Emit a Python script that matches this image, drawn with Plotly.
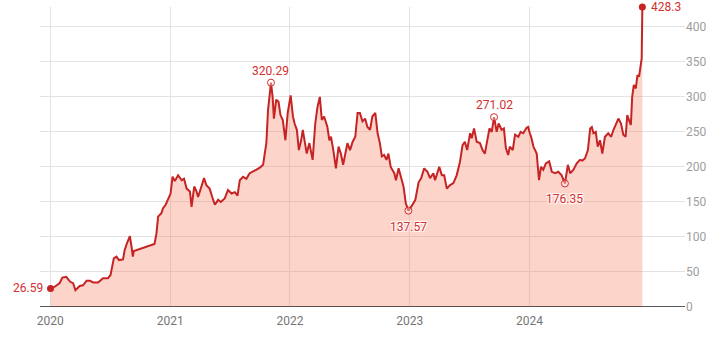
import plotly.graph_objects as go

dates = [
    "2020-01-02", "2020-01-15", "2020-01-30", "2020-02-07", "2020-02-19", "2020-03-02", "2020-03-11",
    "2020-03-18", "2020-03-31", "2020-04-10", "2020-04-21", "2020-05-01", "2020-05-11", "2020-05-26",
    "2020-06-10", "2020-06-25", "2020-07-03", "2020-07-13", "2020-07-21", "2020-07-29", "2020-08-10",
    "2020-08-15", "2020-08-22", "2020-08-31", "2020-09-05", "2020-09-09", "2020-09-12", "2020-11-14",
    "2020-11-20", "2020-11-25", "2020-12-05", "2020-12-10", "2020-12-18", "2020-12-25", "2021-01-02",
    "2021-01-08", "2021-01-15", "2021-01-25", "2021-02-05", "2021-02-12", "2021-02-20", "2021-03-02",
    "2021-03-07", "2021-03-15", "2021-03-22", "2021-03-27", "2021-04-06", "2021-04-14", "2021-04-21",
    "2021-05-01", "2021-05-09", "2021-05-17", "2021-05-27", "2021-06-04", "2021-06-16", "2021-06-26",
    "2021-07-07", "2021-07-17", "2021-07-25", "2021-08-01", "2021-08-11", "2021-08-21", "2021-08-31",
    "2021-09-10", "2021-09-21", "2021-10-01", "2021-10-11", "2021-10-16", "2021-10-21", "2021-10-26",
    "2021-11-04", "2021-11-09", "2021-11-13", "2021-11-20", "2021-11-27", "2021-12-03", "2021-12-10",
    "2021-12-18", "2021-12-25", "2022-01-03", "2022-01-10", "2022-01-15", "2022-01-22", "2022-01-28",
    "2022-02-04", "2022-02-09", "2022-02-14", "2022-02-21", "2022-03-01", "2022-03-11", "2022-03-19",
    "2022-03-26", "2022-04-02", "2022-04-08", "2022-04-15", "2022-04-25", "2022-05-01", "2022-05-06",
    "2022-05-13", "2022-05-21", "2022-05-29", "2022-06-05", "2022-06-12", "2022-06-18", "2022-06-25",
    "2022-07-03", "2022-07-11", "2022-07-19", "2022-07-26", "2022-08-02", "2022-08-10", "2022-08-18",
    "2022-08-25", "2022-09-02", "2022-09-09", "2022-09-18", "2022-09-25", "2022-10-02", "2022-10-08",
    "2022-10-15", "2022-10-22", "2022-10-28", "2022-11-04", "2022-11-15", "2022-11-20", "2022-11-28",
    "2022-12-05", "2022-12-10", "2022-12-13", "2022-12-20", "2022-12-28", "2023-01-08", "2023-01-18",
    "2023-01-28", "2023-02-05", "2023-02-14", "2023-02-24", "2023-03-04", "2023-03-14", "2023-03-19",
    "2023-04-01", "2023-04-09", "2023-04-16", "2023-04-24", "2023-05-04", "2023-05-14", "2023-05-24",
    "2023-06-03", "2023-06-11", "2023-06-18", "2023-06-25", "2023-07-04", "2023-07-09", "2023-07-16",
    "2023-07-24", "2023-08-03", "2023-08-11", "2023-08-18", "2023-08-25", "2023-09-01", "2023-09-08",
    "2023-09-15", "2023-09-23", "2023-09-29", "2023-10-08", "2023-10-15", "2023-10-21", "2023-10-28",
    "2023-11-02", "2023-11-11", "2023-11-18", "2023-11-28", "2023-12-05", "2023-12-13", "2023-12-23",
    "2023-12-28", "2024-01-02", "2024-01-06", "2024-01-13", "2024-01-23", "2024-01-30", "2024-02-05",
    "2024-02-12", "2024-02-20", "2024-03-01", "2024-03-09", "2024-03-19", "2024-03-29", "2024-04-08",
    "2024-04-18", "2024-04-27", "2024-05-04", "2024-05-14", "2024-05-24", "2024-06-03", "2024-06-10",
    "2024-06-18", "2024-06-27", "2024-07-04", "2024-07-09", "2024-07-14", "2024-07-21", "2024-07-27",
    "2024-08-03", "2024-08-10", "2024-08-18", "2024-08-28", "2024-09-06", "2024-09-13", "2024-09-20",
    "2024-09-28", "2024-10-06", "2024-10-13", "2024-10-20", "2024-10-25", "2024-10-30", "2024-11-05",
    "2024-11-09", "2024-11-14", "2024-11-20", "2024-11-25", "2024-11-30", "2024-12-06", "2024-12-08",
    "2024-12-10",
]

prices = [
    26.59, 29, 34, 42, 43, 36, 34,
    24, 30, 31, 37.6, 37.6, 35, 35,
    41, 41, 45.7, 69.5, 72, 67, 68,
    81, 91, 101, 86, 72, 80, 90,
    105, 129, 134, 141, 146, 153, 162,
    186, 180, 188, 181, 183, 169, 165,
    143, 172, 165, 157, 172, 184, 174,
    169, 157, 146, 153, 150, 155, 167,
    162, 164, 159, 181, 186, 183, 191,
    193, 196, 199, 203, 219, 234, 281,
    320.29, 300, 269, 296, 293, 274, 267,
    238, 277, 302, 272, 262, 253, 224,
    238, 253, 236, 219, 234, 210, 262,
    286, 300, 267, 272, 257, 238, 243,
    224, 198, 229, 219, 203, 219, 234,
    224, 236, 243, 277, 277, 265, 269,
    257, 253, 272, 277, 248, 234, 215,
    217, 210, 219, 200, 191, 181, 198,
    186, 177, 172, 148, 137.57, 145, 153,
    178, 184, 198, 193, 184, 191, 181,
    200, 188, 188, 169, 174, 177, 188,
    207, 231, 236, 224, 248, 241, 255,
    236, 234, 224, 219, 238, 255, 250,
    271.02, 250, 262, 253, 255, 227, 217,
    229, 224, 246, 243, 250, 248, 256,
    257, 248, 243, 229, 219, 181, 200,
    196, 205, 208, 193, 191, 193, 188,
    176.35, 203, 191, 196, 205, 210, 209,
    212, 224, 255, 257, 248, 250, 229,
    238, 219, 243, 248, 243, 253, 260,
    269, 262, 246, 243, 274, 267, 260,
    300, 317, 312, 331, 329, 353, 355,
    428.3,
]

highlight_dates = ["2021-11-04", "2022-12-28", "2023-09-15", "2024-04-18"]
highlight_values = [320.29, 137.57, 271.02, 176.35]
highlight_labels = ["320.29", "137.57", "271.02", "176.35"]
highlight_above = [True, False, True, False]

year_ticks = ["2020-01-01", "2021-01-01", "2022-01-01", "2023-01-01", "2024-01-01"]
year_labels = ["2020", "2021", "2022", "2023", "2024"]
y_ticks = [0, 50, 100, 150, 200, 250, 300, 350, 400]

LINE = "#c62424"
TEXT_RED = "#d32f2f"
FILL = "rgba(250,128,100,0.34)"
FONT = "Roboto, Arial, sans-serif"

fig = go.Figure()
fig.add_trace(go.Scatter(
    x=dates, y=prices, mode="lines",
    line=dict(color=LINE, width=2),
    fill="tozeroy", fillcolor=FILL,
    hoverinfo="skip", cliponaxis=False,
))
fig.add_trace(go.Scatter(
    x=highlight_dates, y=highlight_values, mode="markers",
    marker=dict(size=7, color="rgba(255,255,255,0.35)", line=dict(color=TEXT_RED, width=1)),
    hoverinfo="skip", cliponaxis=False,
))
fig.add_trace(go.Scatter(
    x=[dates[0], dates[-1]], y=[prices[0], prices[-1]], mode="markers",
    marker=dict(size=7, color=LINE),
    hoverinfo="skip", cliponaxis=False,
))

halo = "1px 1px 1px white, -1px -1px 1px white, 1px -1px 1px white, -1px 1px 1px white"
for d, v, lab, above in zip(highlight_dates, highlight_values, highlight_labels, highlight_above):
    fig.add_annotation(
        x=d, y=v, text=lab, showarrow=False,
        yshift=12 if above else -16,
        font=dict(family=FONT, size=12, color=TEXT_RED, shadow=halo),
    )
fig.add_annotation(x=dates[0], y=prices[0], text=f"{prices[0]:g}", showarrow=False,
                   xanchor="right", xshift=-6,
                   font=dict(family=FONT, size=12, color=TEXT_RED))
fig.add_annotation(x=dates[-1], y=prices[-1], text=f"{prices[-1]:g}", showarrow=False,
                   xanchor="left", xshift=7,
                   font=dict(family=FONT, size=12, color=TEXT_RED))

fig.update_layout(
    width=720, height=345,
    margin=dict(l=40, r=35, t=7, b=38),
    paper_bgcolor="white", plot_bgcolor="white",
    showlegend=False,
    font=dict(family=FONT),
    xaxis=dict(
        type="date",
        range=["2019-12-01", "2025-04-19"],
        tickvals=year_ticks, ticktext=year_labels,
        showgrid=True, gridcolor="#e3e3e3", gridwidth=1,
        showline=False, zeroline=False, ticks="",
        ticklabelstandoff=5,
        tickfont=dict(size=12, color="#757575"),
    ),
    yaxis=dict(
        side="right",
        range=[0, 428.3],
        tickvals=y_ticks,
        showgrid=True, gridcolor="#e3e3e3", gridwidth=1,
        zeroline=False, showline=False, ticks="",
        tickfont=dict(size=12, color="#9e9e9e"),
    ),
    shapes=[dict(type="line", xref="paper", yref="y", x0=0, x1=1, y0=0, y1=0,
                 line=dict(color="#222222", width=1.5))],
)

fig.write_html("out.html")
